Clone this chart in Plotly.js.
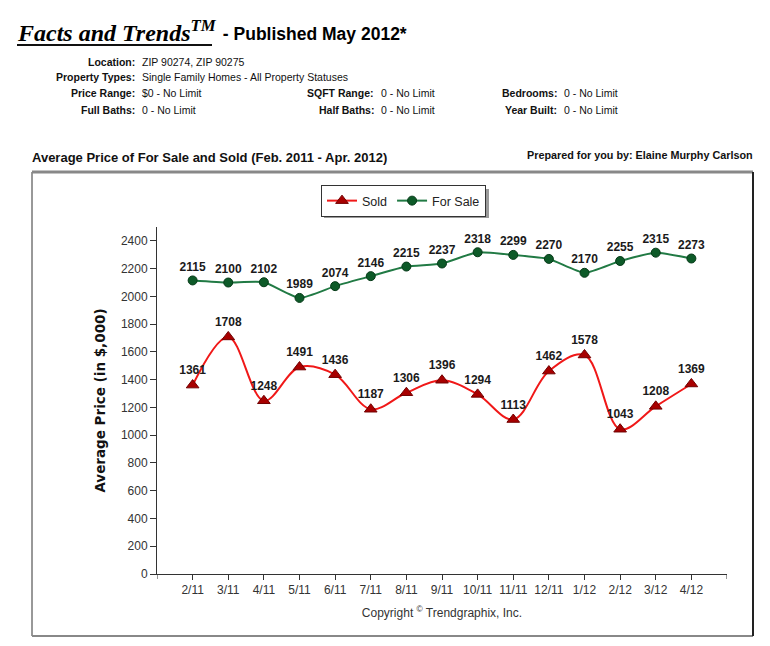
<!DOCTYPE html>
<html>
<head>
<meta charset="utf-8">
<script src="https://cdn.plot.ly/plotly-3.0.1.min.js"></script>
<style>
  html, body { margin: 0; padding: 0; background: #fff; }
  #chart { width: 770px; height: 646px; }
</style>
</head>
<body>
<div id="chart"></div>
<script>
// Months covered by the report
const months = ['2/11', '3/11', '4/11', '5/11', '6/11', '7/11', '8/11', '9/11',
                '10/11', '11/11', '12/11', '1/12', '2/12', '3/12', '4/12'];

// Average price in $ thousands
const soldPrices = [1361, 1708, 1248, 1491, 1436, 1187, 1306, 1396,
                    1294, 1113, 1462, 1578, 1043, 1208, 1369];
const forSalePrices = [2115, 2100, 2102, 1989, 2074, 2146, 2215, 2237,
                       2318, 2299, 2270, 2170, 2255, 2315, 2273];

const yTicks = [0, 200, 400, 600, 800, 1000, 1200, 1400, 1600, 1800, 2000, 2200, 2400];

// Plot area in pixels
const W = 770, H = 646;
const plotL = 157, plotR = 727, plotT = 227, plotB = 574;
const pw = plotR - plotL, ph = plotB - plotT;
const px = x => (x - plotL) / pw;
const py = y => (plotB - y) / ph;

const idx = months.map((m, i) => i);

const labelFont = { family: 'Liberation Sans, Arial, sans-serif', size: 12, color: '#1a1a1a', weight: 'bold' };

const sold = {
  x: idx, y: soldPrices, name: 'Sold', type: 'scatter', mode: 'lines+markers+text',
  line: { color: '#f01818', width: 2, shape: 'spline', smoothing: 1 },
  marker: { symbol: 'triangle-up', size: 11, color: '#a80000', line: { color: '#700000', width: 1 } },
  text: soldPrices.map(String), textposition: 'top center',
  textfont: labelFont, cliponaxis: false
};

const forSale = {
  x: idx, y: forSalePrices, name: 'For Sale', type: 'scatter', mode: 'lines+markers+text',
  line: { color: '#217a44', width: 2, shape: 'spline', smoothing: 0.5 },
  marker: { symbol: 'circle', size: 9, color: '#0d5a28', line: { color: '#063a18', width: 1 } },
  text: forSalePrices.map(String), textposition: 'top center',
  textfont: labelFont, cliponaxis: false
};

const sans = 'Liberation Sans, Arial, sans-serif';

const infoRows = [
  [['Location:', 'ZIP 90274, ZIP 90275']],
  [['Property Types:', 'Single Family Homes - All Property Statuses']],
  [['Price Range:', '$0 - No Limit'], ['SQFT Range:', '0 - No Limit'], ['Bedrooms:', '0 - No Limit']],
  [['Full Baths:', '0 - No Limit'], ['Half Baths:', '0 - No Limit'], ['Year Built:', '0 - No Limit']]
];
const infoColEdge = [137, 376, 559];
const infoRowY = [62, 77, 93, 110];

const annotations = [];
function note(text, x, y, xanchor, font) {
  annotations.push({
    text: text, xref: 'paper', yref: 'paper', x: px(x), y: py(y),
    xanchor: xanchor, yanchor: 'middle', showarrow: false, font: font
  });
}

note('<b><i>Facts and Trends<sup>TM</sup></i></b>', 15, 31, 'left',
     { family: 'Liberation Serif, Times New Roman, serif', size: 24, color: '#000' });
note('<b> - Published May 2012*</b>', 216, 34, 'left', { family: sans, size: 17.5, color: '#000' });

infoRows.forEach((row, r) => {
  row.forEach((cell, c) => {
    note('<b>' + cell[0] + '</b>', infoColEdge[c], infoRowY[r], 'right', { family: sans, size: 10.5, color: '#111' });
    note(cell[1], infoColEdge[c] + 3, infoRowY[r], 'left', { family: sans, size: 10.5, color: '#111' });
  });
});

note('<b>Average Price of For Sale and Sold (Feb. 2011 - Apr. 2012)</b>', 30, 157, 'left',
     { family: sans, size: 13, color: '#111' });
note('<b>Prepared for you by: Elaine Murphy Carlson</b>', 755, 155, 'right',
     { family: sans, size: 10.8, color: '#111' });

const shapes = [
  // header underline
  { type: 'line', xref: 'paper', yref: 'paper', x0: px(17), x1: px(212), y0: py(45), y1: py(45),
    line: { color: '#111', width: 2 } },
  // chart frame
  { type: 'rect', xref: 'paper', yref: 'paper', x0: px(32), x1: px(753), y0: py(636), y1: py(172),
    line: { color: '#333', width: 1 }, layer: 'below' },
  { type: 'line', xref: 'paper', yref: 'paper', x0: px(32), x1: px(753), y0: py(172), y1: py(172),
    line: { color: '#888', width: 3 } },
  { type: 'line', xref: 'paper', yref: 'paper', x0: px(32), x1: px(753), y0: py(636), y1: py(636),
    line: { color: '#888', width: 2 } },
  { type: 'line', xref: 'paper', yref: 'paper', x0: px(753), x1: px(753), y0: py(636), y1: py(172),
    line: { color: '#222', width: 2 } },
  // end ticks of the x axis line
  { type: 'line', xref: 'x', yref: 'paper', x0: -1, x1: -1, y0: 0, y1: py(579),
    line: { color: '#333', width: 1 } },
  { type: 'line', xref: 'x', yref: 'paper', x0: months.length, x1: months.length, y0: 0, y1: py(579),
    line: { color: '#333', width: 1 } },
  // legend drop shadow
  { type: 'rect', xref: 'paper', yref: 'paper', x0: px(324), x1: px(489), y0: py(218), y1: py(189),
    line: { width: 0 }, fillcolor: '#9a9a9a' }
];

const layout = {
  width: W, height: H,
  margin: { l: plotL, r: W - plotR, t: plotT, b: H - plotB, pad: 0 },
  paper_bgcolor: '#fff', plot_bgcolor: '#fff',
  showlegend: true,
  legend: {
    orientation: 'h', x: px(321), y: py(185), xanchor: 'left', yanchor: 'top',
    bgcolor: '#fff', bordercolor: '#333', borderwidth: 1,
    font: { family: sans, size: 12.5, color: '#222' }, traceorder: 'normal'
  },
  xaxis: {
    range: [-1, months.length], tickvals: idx, ticktext: months,
    showgrid: false, zeroline: false, showline: true, linecolor: '#333', linewidth: 1,
    ticks: 'outside', ticklen: 5, tickcolor: '#333', tickwidth: 1,
    tickfont: { family: sans, size: 12, color: '#333' },
    title: { text: 'Copyright <sup>©</sup> Trendgraphix, Inc.', font: { family: sans, size: 12, color: '#333' }, standoff: 12 },
    fixedrange: true
  },
  yaxis: {
    range: [0, 2500], tickvals: yTicks,
    showgrid: false, zeroline: false, showline: true, linecolor: '#333', linewidth: 1,
    ticks: 'outside', ticklen: 6, tickcolor: '#333', tickwidth: 1,
    tickfont: { family: sans, size: 12, color: '#333' },
    title: { text: '<b>Average Price (in $,000)</b>', font: { family: 'DejaVu Sans, sans-serif', size: 13.5, color: '#111' }, standoff: 12 },
    fixedrange: true
  },
  annotations: annotations,
  shapes: shapes
};

Plotly.newPlot('chart', [sold, forSale], layout, { displayModeBar: false, staticPlot: true });
</script>
</body>
</html>
